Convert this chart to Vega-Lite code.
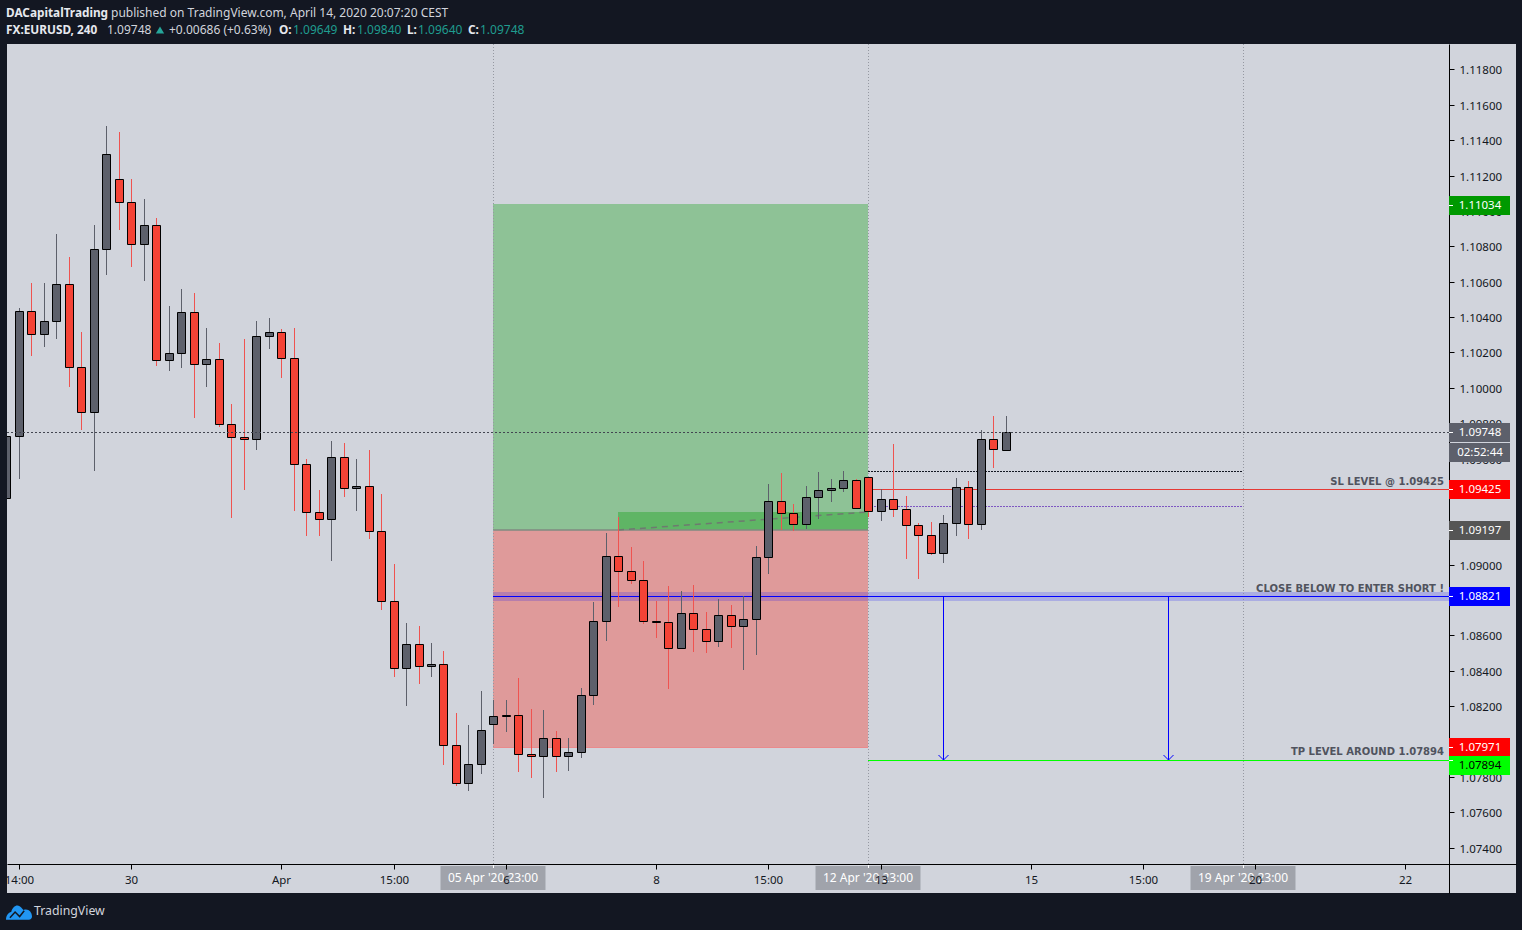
{"$schema":"https://vega.github.io/schema/vega-lite/v6.json","width":1509,"height":849,"autosize":{"type":"none"},"padding":{"left":7,"top":44,"right":6,"bottom":37},"background":"#131722","view":{"fill":"#d1d4dc","stroke":null},"config":{"font":"Noto Sans","axis":{"title":null}},
"datasets":{
"candles":[
{"i":-1,"o":1.09376,"h":1.09727,"l":1.09376,"c":1.09727},
{"i":0,"o":1.09725,"h":1.10449,"l":1.09486,"c":1.10432},
{"i":1,"o":1.10432,"h":1.10592,"l":1.10181,"c":1.10302},
{"i":2,"o":1.10302,"h":1.10592,"l":1.10232,"c":1.10376},
{"i":3,"o":1.10376,"h":1.1087,"l":1.10277,"c":1.10585},
{"i":4,"o":1.10585,"h":1.1074,"l":1.10006,"c":1.10116},
{"i":5,"o":1.10116,"h":1.10314,"l":1.09763,"c":1.09861},
{"i":6,"o":1.09861,"h":1.1092,"l":1.09531,"c":1.10783},
{"i":7,"o":1.10783,"h":1.1148,"l":1.10638,"c":1.1132},
{"i":8,"o":1.11179,"h":1.11447,"l":1.10894,"c":1.11049},
{"i":9,"o":1.11049,"h":1.11181,"l":1.10685,"c":1.10811},
{"i":10,"o":1.10811,"h":1.11068,"l":1.10604,"c":1.10919},
{"i":11,"o":1.10919,"h":1.1096,"l":1.10125,"c":1.10155},
{"i":12,"o":1.10155,"h":1.10462,"l":1.10096,"c":1.10195},
{"i":13,"o":1.10195,"h":1.10559,"l":1.10113,"c":1.10427},
{"i":14,"o":1.10427,"h":1.10536,"l":1.09831,"c":1.10133},
{"i":15,"o":1.10133,"h":1.10338,"l":1.10006,"c":1.10161},
{"i":16,"o":1.10161,"h":1.10253,"l":1.0978,"c":1.09793},
{"i":17,"o":1.09793,"h":1.09908,"l":1.09263,"c":1.0972},
{"i":18,"o":1.0972,"h":1.10276,"l":1.09422,"c":1.09708},
{"i":19,"o":1.09708,"h":1.10378,"l":1.0965,"c":1.10291},
{"i":20,"o":1.10291,"h":1.10395,"l":1.10221,"c":1.10314},
{"i":21,"o":1.10314,"h":1.10332,"l":1.10057,"c":1.10167},
{"i":22,"o":1.10167,"h":1.10338,"l":1.09305,"c":1.09567},
{"i":23,"o":1.09567,"h":1.09597,"l":1.09163,"c":1.09296},
{"i":24,"o":1.09296,"h":1.09422,"l":1.09163,"c":1.09256},
{"i":25,"o":1.09256,"h":1.09699,"l":1.09022,"c":1.09607},
{"i":26,"o":1.09607,"h":1.09688,"l":1.09384,"c":1.09431},
{"i":27,"o":1.09431,"h":1.09597,"l":1.09305,"c":1.09443},
{"i":28,"o":1.09443,"h":1.09648,"l":1.09146,"c":1.09188},
{"i":29,"o":1.09188,"h":1.09399,"l":1.08745,"c":1.08792},
{"i":30,"o":1.08792,"h":1.09003,"l":1.08366,"c":1.08413},
{"i":31,"o":1.08413,"h":1.08669,"l":1.08202,"c":1.08549},
{"i":32,"o":1.08549,"h":1.08652,"l":1.08326,"c":1.08425},
{"i":33,"o":1.08425,"h":1.08556,"l":1.08366,"c":1.08436},
{"i":34,"o":1.08436,"h":1.08511,"l":1.07868,"c":1.07978},
{"i":35,"o":1.07978,"h":1.0816,"l":1.07749,"c":1.07763},
{"i":36,"o":1.07763,"h":1.08092,"l":1.07721,"c":1.0787},
{"i":37,"o":1.0787,"h":1.08285,"l":1.07817,"c":1.08063},
{"i":38,"o":1.08096,"h":1.08234,"l":1.07987,"c":1.08142},
{"i":39,"o":1.08142,"h":1.08234,"l":1.08055,"c":1.08147},
{"i":40,"o":1.08147,"h":1.08358,"l":1.07828,"c":1.07927},
{"i":41,"o":1.07927,"h":1.08183,"l":1.07794,"c":1.07915},
{"i":42,"o":1.07915,"h":1.08177,"l":1.07681,"c":1.08017},
{"i":43,"o":1.08017,"h":1.08059,"l":1.07828,"c":1.07915},
{"i":44,"o":1.07915,"h":1.08019,"l":1.07834,"c":1.07938},
{"i":45,"o":1.07938,"h":1.08302,"l":1.07908,"c":1.08261},
{"i":46,"o":1.08261,"h":1.08788,"l":1.08206,"c":1.08679},
{"i":47,"o":1.08679,"h":1.09179,"l":1.08568,"c":1.09047},
{"i":48,"o":1.09047,"h":1.09269,"l":1.08762,"c":1.08962},
{"i":49,"o":1.08962,"h":1.09099,"l":1.08888,"c":1.08911},
{"i":50,"o":1.08911,"h":1.0902,"l":1.08664,"c":1.08679},
{"i":51,"o":1.08679,"h":1.08794,"l":1.08585,"c":1.08673},
{"i":52,"o":1.08673,"h":1.08879,"l":1.08294,"c":1.08526},
{"i":53,"o":1.08526,"h":1.0885,"l":1.08526,"c":1.08724},
{"i":54,"o":1.08724,"h":1.08884,"l":1.08505,"c":1.08634},
{"i":55,"o":1.08634,"h":1.08732,"l":1.085,"c":1.08566},
{"i":56,"o":1.08566,"h":1.08805,"l":1.08534,"c":1.08713},
{"i":57,"o":1.08713,"h":1.08771,"l":1.08528,"c":1.08651},
{"i":58,"o":1.08651,"h":1.08822,"l":1.08404,"c":1.0869},
{"i":59,"o":1.0869,"h":1.09105,"l":1.08488,"c":1.09041},
{"i":60,"o":1.09041,"h":1.09456,"l":1.08947,"c":1.09358},
{"i":61,"o":1.09358,"h":1.09518,"l":1.09195,"c":1.0929},
{"i":62,"o":1.0929,"h":1.09342,"l":1.09191,"c":1.09228},
{"i":63,"o":1.09228,"h":1.09444,"l":1.09203,"c":1.0938},
{"i":64,"o":1.0938,"h":1.09523,"l":1.09259,"c":1.0942},
{"i":65,"o":1.0942,"h":1.09484,"l":1.09354,"c":1.09431},
{"i":66,"o":1.09431,"h":1.09529,"l":1.09412,"c":1.09476},
{"i":67,"o":1.09476,"h":1.09484,"l":1.09318,"c":1.09318},
{"i":68,"o":1.09493,"h":1.09493,"l":1.09271,"c":1.09301},
{"i":69,"o":1.09301,"h":1.09426,"l":1.09248,"c":1.09369},
{"i":70,"o":1.09369,"h":1.09682,"l":1.09271,"c":1.09313},
{"i":71,"o":1.09313,"h":1.09388,"l":1.09033,"c":1.09222},
{"i":72,"o":1.09222,"h":1.09233,"l":1.0892,"c":1.09165},
{"i":73,"o":1.09165,"h":1.09241,"l":1.09056,"c":1.09064},
{"i":74,"o":1.09064,"h":1.09279,"l":1.09011,"c":1.09233},
{"i":75,"o":1.09233,"h":1.09488,"l":1.09163,"c":1.09437},
{"i":76,"o":1.09437,"h":1.09473,"l":1.09146,"c":1.09228},
{"i":77,"o":1.09228,"h":1.09759,"l":1.09197,"c":1.09708},
{"i":78,"o":1.09708,"h":1.0984,"l":1.09548,"c":1.09652},
{"i":79,"o":1.09649,"h":1.0984,"l":1.0964,"c":1.09748}
],
"tags":[
{"p":1.11034,"t":"1.11034","fill":"profit"},
{"p":1.09748,"t":"1.09748","fill":"last"},
{"p":1.09634,"t":"02:52:44","fill":"last"},
{"p":1.09425,"t":"1.09425","fill":"stop"},
{"p":1.09197,"t":"1.09197","fill":"entry"},
{"p":1.08821,"t":"1.08821","fill":"trigger"},
{"p":1.07971,"t":"1.07971","fill":"stop"},
{"p":1.07869,"t":"1.07894","fill":"target"}
],
"notes":[
{"i":114.1,"p":1.09468,"t":"SL LEVEL @ 1.09425"},
{"i":114.1,"p":1.08864,"t":"CLOSE BELOW TO ENTER SHORT !"},
{"i":114.1,"p":1.07939,"t":"TP LEVEL AROUND 1.07894"}
],
"stamps":[
{"i":38,"t":"05 Apr '20   23:00"},
{"i":68,"t":"12 Apr '20   23:00"},
{"i":98,"t":"19 Apr '20   23:00"}
],
"headBold":[
{"i":-1.02,"p":1.1212,"t":"DACapitalTrading"},
{"i":-1.02,"p":1.12023,"t":"FX:EURUSD, 240"},
{"i":20.8,"p":1.12023,"t":"O:"},
{"i":25.94,"p":1.12023,"t":"H:"},
{"i":31.06,"p":1.12023,"t":"L:"},
{"i":35.94,"p":1.12023,"t":"C:"}
],
"headPlain":[
{"i":7.38,"p":1.1212,"t":"published on TradingView.com, April 14, 2020 20:07:20 CEST"},
{"i":7.06,"p":1.12023,"t":"1.09748"},
{"i":12.02,"p":1.12023,"t":"+0.00686 (+0.63%)"}
],
"headTeal":[
{"i":21.94,"p":1.12023,"t":"1.09649"},
{"i":27.06,"p":1.12023,"t":"1.09840"},
{"i":31.94,"p":1.12023,"t":"1.09640"},
{"i":36.94,"p":1.12023,"t":"1.09748"}
]
},
"layer":[
{"data":{"values":[{"i":38,"i2":68,"p":1.11038,"p2":1.09197}]},"mark":{"type":"rect","fill":"#4caf50","opacity":0.5},
"encoding":{"x":{"field":"i","type":"quantitative","scale":{"domain":[-0.9472,119.87],"nice":false,"zero":false,"padding":0,"round":true},
"axis":{"orient":"bottom","offset":-29,"zindex":1,"values":[0,9,21,30,39,51,60,69,81,90,99,111],"labelExpr":"{'0':'14:00','9':'30','21':'Apr','30':'15:00','39':'6','51':'8','60':'15:00','69':'13','81':'15','90':'15:00','99':'20','111':'22'}[datum.value]","domainColor":"#000000","tickColor":"#000000","tickSize":5,"labelColor":"#131722","labelFontSize":11.5,"labelPadding":5,"grid":false,"labelOverlap":false,"labelFlush":false}},
"x2":{"field":"i2"},
"y":{"field":"p","type":"quantitative","scale":{"domain":[1.07143,1.11944],"nice":false,"zero":false,"padding":0,"round":true},
"axis":{"orient":"right","offset":-67,"tickCount":24,"values":[1.074,1.076,1.078,1.08,1.082,1.084,1.086,1.088,1.09,1.092,1.094,1.096,1.098,1.1,1.102,1.104,1.106,1.108,1.11,1.112,1.114,1.116,1.118],"format":".5f","domainColor":"#000000","tickColor":"#000000","tickSize":5,"labelColor":"#131722","labelFontSize":11.5,"labelPadding":5,"labelOffset":1,"grid":false,"labelOverlap":false,"labelFlush":false}},
"y2":{"field":"p2"}}},
{"data":{"values":[{"i":38,"i2":68,"p":1.09197,"p2":1.07971}]},"mark":{"type":"rect","fill":"#f44336","opacity":0.4},"encoding":{"x":{"field":"i","type":"quantitative"},"x2":{"field":"i2"},"y":{"field":"p","type":"quantitative"},"y2":{"field":"p2"}}},
{"data":{"values":[{"i":48,"i2":68,"p":1.09297,"p2":1.09197}]},"mark":{"type":"rect","fill":"#4caf50","opacity":0.7},"encoding":{"x":{"field":"i","type":"quantitative"},"x2":{"field":"i2"},"y":{"field":"p","type":"quantitative"},"y2":{"field":"p2"}}},
{"data":{"values":[{"i":38,"i2":68,"p":1.09197}]},"mark":{"type":"rule","stroke":"#7f8a80","strokeWidth":1.5},"encoding":{"x":{"field":"i","type":"quantitative"},"x2":{"field":"i2"},"y":{"field":"p","type":"quantitative"}}},
{"data":{"values":[{"i":38,"i2":68,"p":1.07971}]},"mark":{"type":"rule","stroke":"#ea8a8c","strokeWidth":1,"yOffset":0.5},"encoding":{"x":{"field":"i","type":"quantitative"},"x2":{"field":"i2"},"y":{"field":"p","type":"quantitative"}}},
{"data":{"values":[{"i":48,"p":1.09197},{"i":68,"p":1.09297}]},"mark":{"type":"line","stroke":"#6e7a70","strokeWidth":1.5,"strokeDash":[6,5]},"encoding":{"x":{"field":"i","type":"quantitative"},"y":{"field":"p","type":"quantitative"}}},
{"data":{"values":[{"i":38,"i2":114.5,"p":1.08846,"p2":1.08794}]},"mark":{"type":"rect","fill":"#0000ff","opacity":0.18},"encoding":{"x":{"field":"i","type":"quantitative"},"x2":{"field":"i2"},"y":{"field":"p","type":"quantitative"},"y2":{"field":"p2"}}},
{"data":{"values":[{"i":38},{"i":68},{"i":98}]},"mark":{"type":"rule","stroke":"#9598a1","strokeWidth":1,"strokeDash":[1,2],"xOffset":0.5},"encoding":{"x":{"field":"i","type":"quantitative"},"y":{"datum":1.11944},"y2":{"datum":1.07308}}},
{"data":{"values":[{"i":68,"i2":98,"p":1.09527}]},"mark":{"type":"rule","stroke":"#131722","strokeWidth":1,"strokeDash":[2,1],"yOffset":0.5},"encoding":{"x":{"field":"i","type":"quantitative"},"x2":{"field":"i2"},"y":{"field":"p","type":"quantitative"}}},
{"data":{"values":[{"i":68,"i2":98,"p":1.0933}]},"mark":{"type":"rule","stroke":"#7e57c2","strokeWidth":1,"strokeDash":[2,1],"yOffset":0.5},"encoding":{"x":{"field":"i","type":"quantitative"},"x2":{"field":"i2"},"y":{"field":"p","type":"quantitative"}}},
{"data":{"values":[{"i":68,"i2":114.5,"p":1.09425}]},"mark":{"type":"rule","stroke":"#e53935","strokeWidth":1,"yOffset":0.5},"encoding":{"x":{"field":"i","type":"quantitative"},"x2":{"field":"i2"},"y":{"field":"p","type":"quantitative"}}},
{"data":{"values":[{"i":38,"i2":114.5,"p":1.08821}]},"mark":{"type":"rule","stroke":"#0000ff","strokeWidth":1,"yOffset":0.5},"encoding":{"x":{"field":"i","type":"quantitative"},"x2":{"field":"i2"},"y":{"field":"p","type":"quantitative"}}},
{"data":{"values":[{"i":68,"i2":114.5,"p":1.07894}]},"mark":{"type":"rule","stroke":"#00ff00","strokeWidth":1,"yOffset":0.5},"encoding":{"x":{"field":"i","type":"quantitative"},"x2":{"field":"i2"},"y":{"field":"p","type":"quantitative"}}},
{"data":{"values":[{"i":74,"p":1.08821,"p2":1.07894},{"i":92,"p":1.08821,"p2":1.07894}]},"mark":{"type":"rule","stroke":"#0000ff","strokeWidth":1,"xOffset":0.5},"encoding":{"x":{"field":"i","type":"quantitative"},"y":{"field":"p","type":"quantitative"},"y2":{"field":"p2"}}},
{"data":{"values":[{"i":74,"p":1.07894},{"i":92,"p":1.07894}]},"mark":{"type":"point","shape":"M-1,-1L0,0L1,-1","size":100,"filled":false,"stroke":"#0000ff","strokeWidth":1,"opacity":1,"xOffset":0.5},"encoding":{"x":{"field":"i","type":"quantitative"},"y":{"field":"p","type":"quantitative"}}},
{"data":{"name":"candles"},"mark":{"type":"rule","strokeWidth":1,"clip":true,"xOffset":0.5},"encoding":{"x":{"field":"i","type":"quantitative"},"y":{"field":"h","type":"quantitative"},"y2":{"field":"l"},"stroke":{"condition":{"test":"datum.c>=datum.o","value":"#5d606b"},"value":"#ef5350"}}},
{"data":{"name":"candles"},"mark":{"type":"bar","size":8,"stroke":"#000000","strokeWidth":1,"clip":true,"xOffset":0.5,"yOffset":0.5,"y2Offset":0.5},"encoding":{"x":{"field":"i","type":"quantitative"},"y":{"field":"o","type":"quantitative"},"y2":{"field":"c"},"fill":{"condition":{"test":"datum.c>=datum.o","value":"#5d606b"},"value":"#f44336"}}},
{"data":{"values":[{"i":-0.94,"i2":114.5,"p":1.09748}]},"mark":{"type":"rule","stroke":"#434651","strokeWidth":1,"strokeDash":[2,2],"yOffset":0.5},"encoding":{"x":{"field":"i","type":"quantitative"},"x2":{"field":"i2"},"y":{"field":"p","type":"quantitative"}}},
{"data":{"name":"notes"},"mark":{"type":"text","align":"right","baseline":"middle","font":"DejaVu Sans","fontWeight":"bold","fontSize":10,"fill":"#434651","opacity":0.9},"encoding":{"x":{"field":"i","type":"quantitative"},"y":{"field":"p","type":"quantitative"},"text":{"field":"t"}}},
{"data":{"name":"tags"},"mark":{"type":"bar","size":19,"yOffset":0.5},"encoding":{"x":{"datum":114.51},"x2":{"datum":119.39},"y":{"field":"p","type":"quantitative"},"fill":{"field":"fill","type":"nominal","legend":null,"scale":{"domain":["profit","last","stop","entry","trigger","target"],"range":["#009900","#5d606b","#ff0000","#555555","#0000ff","#00ff00"]}}}},
{"data":{"values":[{"p":1.11034},{"p":1.09748},{"p":1.09425},{"p":1.09197},{"p":1.08821},{"p":1.07971},{"p":1.07894}]},"mark":{"type":"rule","stroke":"#ffffff","strokeWidth":1,"yOffset":0.5},"encoding":{"x":{"datum":114.51},"x2":{"datum":114.85},"y":{"field":"p","type":"quantitative"}}},
{"data":{"name":"tags"},"mark":{"type":"text","align":"center","baseline":"middle","fontSize":11.5,"font":"Noto Sans","dy":1},"encoding":{"x":{"datum":117},"y":{"field":"p","type":"quantitative"},"text":{"field":"t"},"fill":{"condition":{"test":"datum.fill==='target'","value":"#000000"},"value":"#ffffff"}}},
{"data":{"name":"stamps"},"mark":{"type":"bar","size":105,"fill":"#a0a3ab"},"encoding":{"x":{"field":"i","type":"quantitative"},"y":{"datum":1.07295},"y2":{"datum":1.07159}}},
{"data":{"name":"stamps"},"mark":{"type":"rule","stroke":"#ffffff","strokeWidth":1,"xOffset":0.5},"encoding":{"x":{"field":"i","type":"quantitative"},"y":{"datum":1.07308},"y2":{"datum":1.07285}}},
{"data":{"name":"stamps"},"mark":{"type":"text","align":"center","baseline":"middle","fontSize":12,"font":"Noto Sans","fill":"#ffffff"},"encoding":{"x":{"field":"i","type":"quantitative"},"y":{"datum":1.0723},"text":{"field":"t"}}},
{"data":{"name":"headBold"},"mark":{"type":"text","align":"left","baseline":"middle","fontSize":11.8,"font":"Noto Sans","fontWeight":"bold","fill":"#e6e8ee"},"encoding":{"x":{"field":"i","type":"quantitative"},"y":{"field":"p","type":"quantitative"},"text":{"field":"t"}}},
{"data":{"name":"headPlain"},"mark":{"type":"text","align":"left","baseline":"middle","fontSize":12,"font":"Noto Sans","fill":"#d1d4dc"},"encoding":{"x":{"field":"i","type":"quantitative"},"y":{"field":"p","type":"quantitative"},"text":{"field":"t"}}},
{"data":{"name":"headTeal"},"mark":{"type":"text","align":"left","baseline":"middle","fontSize":12,"font":"Noto Sans","fill":"#1f9c8f"},"encoding":{"x":{"field":"i","type":"quantitative"},"y":{"field":"p","type":"quantitative"},"text":{"field":"t"}}},
{"data":{"values":[{"i":11.3,"p":1.12023}]},"mark":{"type":"point","shape":"triangle-up","size":70,"filled":true,"fill":"#26a69a","opacity":1},"encoding":{"x":{"field":"i","type":"quantitative"},"y":{"field":"p","type":"quantitative"}}},
{"data":{"values":[{"i":1.22,"p":1.0704,"t":"TradingView"}]},"mark":{"type":"text","align":"left","baseline":"middle","fontSize":12.3,"font":"Noto Sans","fill":"#d1d4dc"},"encoding":{"x":{"field":"i","type":"quantitative"},"y":{"field":"p","type":"quantitative"},"text":{"field":"t"}}},
{"data":{"values":[{"i":0.02,"p":1.07035}]},"mark":{"type":"point","shape":"M-1,0.6C-1,0.3 -0.85,0.05 -0.6,0C-0.5,-0.4 -0.2,-0.6 0.05,-0.45C0.2,-0.35 0.3,-0.2 0.35,-0.15C0.7,-0.3 1,0 1,0.35C1,0.5 0.9,0.6 0.75,0.6Z","size":676,"filled":true,"fill":"#2196f3","opacity":1},"encoding":{"x":{"field":"i","type":"quantitative"},"y":{"field":"p","type":"quantitative"}}},
{"data":{"values":[{"i":0.02,"p":1.07035}]},"mark":{"type":"point","shape":"M-0.7,0.45L-0.3,0L0.05,0.35L0.4,-0.1","size":676,"filled":false,"stroke":"#131722","strokeWidth":1.5,"opacity":1},"encoding":{"x":{"field":"i","type":"quantitative"},"y":{"field":"p","type":"quantitative"}}}
]}
